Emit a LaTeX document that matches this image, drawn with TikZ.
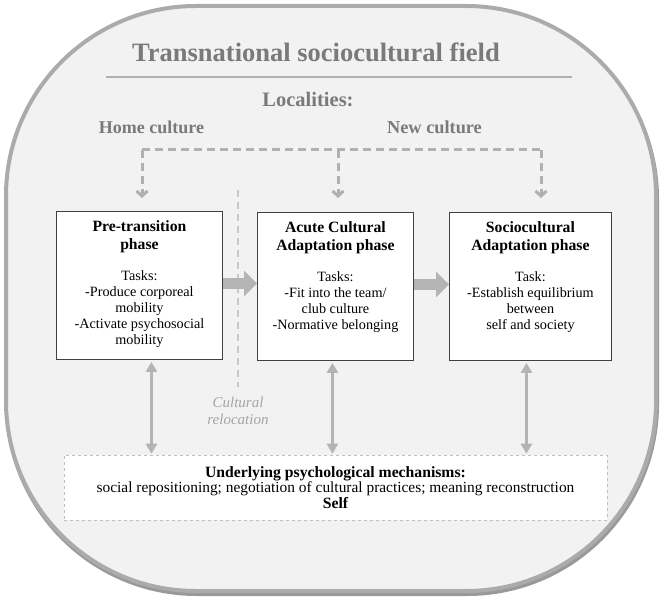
\documentclass[tikz,border=0pt]{standalone}
\usepackage{fontspec}
\setmainfont{Liberation Serif}
\usetikzlibrary{arrows.meta}
\definecolor{framegray}{HTML}{ABABAB}
\definecolor{bggray}{HTML}{F2F2F2}
\definecolor{headgray}{HTML}{7A7A7A}
\definecolor{arrowgray}{HTML}{B4B4B4}
\definecolor{dashgray}{HTML}{B0B0B0}
\definecolor{relgray}{HTML}{C8C8C8}
\definecolor{reltext}{HTML}{A5A5A5}
\newcommand{\phasetext}[3]{%
  \begin{minipage}[t][148pt][t]{#1}\centering\vspace*{9pt}%
  {\fontsize{15.7}{18}\selectfont\bfseries #2\par}%
  \vspace{15pt}%
  {\fontsize{14.2}{16}\selectfont #3\par}%
  \end{minipage}}
\tikzset{
  phasebox/.style={draw=black!75, line width=0.9pt, fill=white, inner sep=0pt, anchor=north west},
  headtext/.style={text=headgray, font=\bfseries, inner sep=0pt},
  thickarrow/.style={draw=arrowgray, line width=11pt, -{Triangle[length=13pt,width=25pt]}},
  dblarrow/.style={draw=arrowgray, line width=3pt, {Triangle[length=10pt,width=11pt]}-{Triangle[length=10pt,width=11pt]}},
  locdash/.style={draw=dashgray, line width=3pt, dash pattern=on 8pt off 5pt},
  locarrow/.style={locdash, -{Straight Barb[length=5pt,width=11pt]}},
  reldash/.style={draw=relgray, line width=2.5pt, dash pattern=on 7pt off 5pt},
}
\begin{document}
\begin{tikzpicture}[x=1pt,y=-1pt]
\useasboundingbox (0,0) rectangle (666,601);
% outer field
\draw[line width=4pt, draw=black!40, rounded corners=190pt] (7,9) rectangle (657,594);
\draw[line width=4pt, draw=framegray, fill=bggray, rounded corners=190pt] (6,6) rectangle (656,591);
% headings
\node[headtext, font=\bfseries\fontsize{26.5}{28}\selectfont] (title) at (316,52) {Transnational sociocultural field};
\draw[draw=dashgray, line width=2pt] (106,77) -- (572,77);
\node[headtext, font=\bfseries\fontsize{20.5}{22}\selectfont] (loc) at (308,100) {Localities:};
\node[headtext, font=\bfseries\fontsize{18}{20}\selectfont] (home) at (151.5,127) {Home culture};
\node[headtext, font=\bfseries\fontsize{18.3}{20}\selectfont] (new) at (434.5,127) {New culture};
% phase boxes
\node[phasebox] (b1) at (56,211) {\phasetext{166pt}{Pre-transition\\phase}{Tasks:\\-Produce corporeal\\mobility\\-Activate psychosocial\\mobility}};
\node[phasebox] (b2) at (257,212) {\phasetext{156pt}{Acute Cultural\\Adaptation phase}{Tasks:\\-Fit into the team/\\club culture\\-Normative belonging}};
\node[phasebox] (b3) at (449,212) {\phasetext{162pt}{Sociocultural\\Adaptation phase}{Task:\\-Establish equilibrium\\between\\self and society}};
% mechanisms box
\node[draw=black!25, dashed, line width=0.6pt, fill=white, minimum width=543pt, minimum height=65pt, inner sep=0pt, align=center] (mech) at (335.5,487.5)
  {{\fontsize{15.7}{17}\selectfont\bfseries Underlying psychological mechanisms:}\\
   {\fontsize{15.4}{17}\selectfont social repositioning; negotiation of cultural practices; meaning reconstruction}\\
   {\fontsize{15.7}{17}\selectfont\bfseries Self}};
% localities dashed connectors
\coordinate (dl) at (142,150);
\coordinate (dm) at (338,150);
\coordinate (dr) at (541,150);
\draw[locdash] (dl) -- (dr);
\draw[locarrow, shorten >=13pt] (dl) -- (dl |- b1.north);
\draw[locarrow, shorten >=14pt] (dm) -- (dm |- b2.north);
\draw[locarrow, shorten >=14pt] (dr) -- (dr |- b3.north);
% cultural relocation
\node[text=reltext, font=\itshape\fontsize{15}{17}\selectfont, align=center, inner sep=0pt] (cr) at (238,411) {Cultural\\relocation};
\coordinate (crtop) at (238,190);
\draw[reldash] (crtop) -- ([yshift=10pt]cr.north);
% phase arrows
\draw[thickarrow] ([yshift=2pt]b1.east) -- ([yshift=2pt]b1.east -| b2.west);
\draw[thickarrow] ([yshift=2pt]b2.east) -- ([yshift=2pt]b2.east -| b3.west);
% double arrows to mechanisms
\draw[dblarrow, shorten <=2pt, shorten >=1pt] ([xshift=12pt]b1.south) -- ([xshift=12pt]b1.south |- mech.north);
\draw[dblarrow, shorten <=2pt, shorten >=1pt] ([xshift=-3pt]b2.south) -- ([xshift=-3pt]b2.south |- mech.north);
\draw[dblarrow, shorten <=2pt, shorten >=1pt] ([xshift=-4pt]b3.south) -- ([xshift=-4pt]b3.south |- mech.north);
\end{tikzpicture}
\end{document}
